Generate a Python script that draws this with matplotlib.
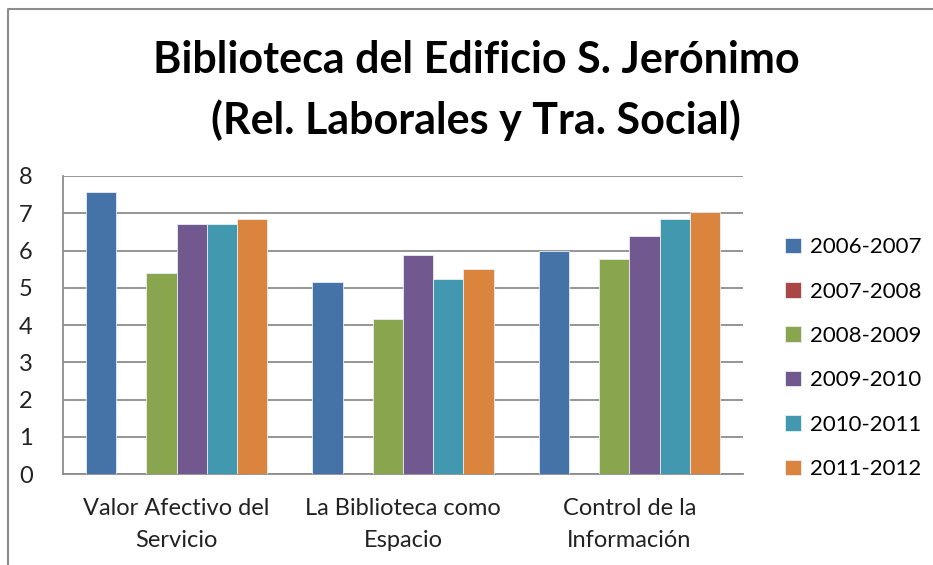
import matplotlib.pyplot as plt
import numpy as np
from matplotlib.lines import Line2D

categories = ["Valor Afectivo del\nServicio", "La Biblioteca como\nEspacio", "Control de la\nInformación"]
years = ["2006-2007", "2007-2008", "2008-2009", "2009-2010", "2010-2011", "2011-2012"]
v2006 = [7.56, 5.15, 6.00]
v2007 = [np.nan, np.nan, np.nan]
v2008 = [5.39, 4.15, 5.77]
v2009 = [6.70, 5.87, 6.39]
v2010 = [6.70, 5.23, 6.84]
v2011 = [6.84, 5.50, 7.04]
series = [v2006, v2007, v2008, v2009, v2010, v2011]
colors = ["#4572A7", "#AA4643", "#89A54E", "#71588F", "#4198AF", "#DB843D"]

plt.rcParams['font.family'] = ['Lato', 'DejaVu Sans']

fig = plt.figure(figsize=(9.33, 5.65), dpi=100)
ax = fig.add_axes([0.0679, 0.161, 0.796 - 0.0679, 0.6885 - 0.161])

n = len(series)
gap = 1.5
w = 1.0 / (n + gap)
x = np.arange(len(categories))
for i, (vals, c, lab) in enumerate(zip(series, colors, years)):
    offs = (i - (n - 1) / 2) * w
    ax.bar(x + offs, vals, w, color=c, label=lab, edgecolor="#e8eef5", linewidth=0.6, zorder=3)

ax.set_xlim(-0.5, len(categories) - 0.5)
ax.set_ylim(0, 8)
ax.set_yticks(range(0, 9))
ax.set_xticks(x)
ax.set_xticklabels(categories, fontsize=17, linespacing=1.65, color="#222222")
ax.tick_params(axis='y', length=0, pad=22, labelsize=17, labelcolor="#222222")
ax.tick_params(axis='x', length=0, pad=17)
ax.grid(axis='y', color="#8c8c8c", linewidth=1.3, zorder=0)
for s in ["top", "right"]:
    ax.spines[s].set_visible(False)
for s in ["left", "bottom"]:
    ax.spines[s].set_color("#8c8c8c")
    ax.spines[s].set_linewidth(1.3)

fig.text(0.51, 0.893, "Biblioteca del Edificio S. Jerónimo", ha='center', va='center',
         fontsize=31, fontweight='bold')
fig.text(0.51, 0.787, "(Rel. Laborales y Tra. Social)", ha='center', va='center',
         fontsize=31, fontweight='bold')

fig.legend(loc='center left', bbox_to_anchor=(0.832, 0.366), frameon=False, fontsize=16,
           handlelength=0.7, handleheight=0.7, handletextpad=0.4, labelspacing=1.1,
           borderaxespad=0)

fig.add_artist(Line2D([8 / 933, 8 / 933, 1.0], [0.0, 1 - 9 / 565, 1 - 9 / 565],
                      transform=fig.transFigure, color="#8c8c8c", linewidth=1.5))

plt.savefig("out.png", dpi=100)
